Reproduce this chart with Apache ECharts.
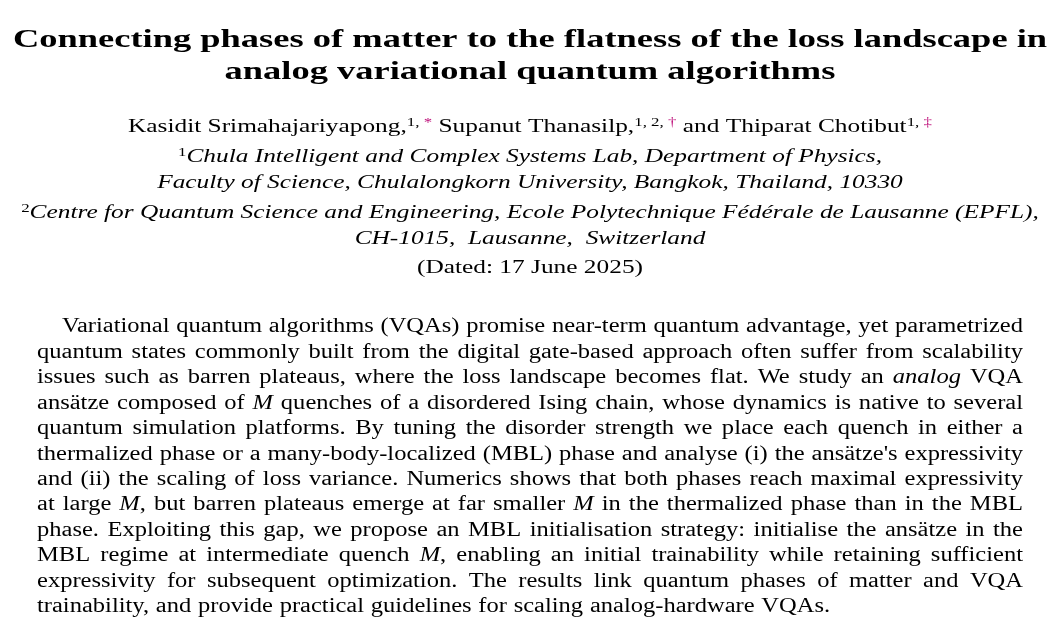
<!DOCTYPE html>
<html><head><meta charset="utf-8">
<script src="https://cdn.jsdelivr.net/npm/echarts@6/dist/echarts.min.js"></script>
<style>html,body{margin:0;padding:0;background:#fff}#c{width:1060px;height:640px}</style>
</head><body><div id="c"></div>
<script>
const titleLines = [
  "Connecting phases of matter to the flatness of the loss landscape in",
  "analog variational quantum algorithms"
];
const authorLine = "Kasidit Srimahajariyapong,{sup|1, }{pk|*} Supanut Thanasilp,{sup|1, 2, }{pk|†} and Thiparat Chotibut{sup|1, }{pk|‡}";
const affilLines = [
  "{sup|1}Chula Intelligent and Complex Systems Lab, Department of Physics,",
  "Faculty of Science, Chulalongkorn University, Bangkok, Thailand, 10330",
  "{sup|2}Centre for Quantum Science and Engineering, Ecole Polytechnique Fédérale de Lausanne (EPFL),",
  "CH-1015,  Lausanne,  Switzerland"
];
const dateLine = "(Dated: 17 June 2025)";
const abstractLines = [
  "Variational quantum algorithms (VQAs) promise near-term quantum advantage, yet parametrized",
  "quantum states commonly built from the digital gate-based approach often suffer from scalability",
  "issues such as barren plateaus, where the loss landscape becomes flat. We study an *analog* VQA",
  "ansätze composed of *M* quenches of a disordered Ising chain, whose dynamics is native to several",
  "quantum simulation platforms. By tuning the disorder strength we place each quench in either a",
  "thermalized phase or a many-body-localized (MBL) phase and analyse (i) the ansätze's expressivity",
  "and (ii) the scaling of loss variance. Numerics shows that both phases reach maximal expressivity",
  "at large *M*, but barren plateaus emerge at far smaller *M* in the thermalized phase than in the MBL",
  "phase. Exploiting this gap, we propose an MBL initialisation strategy: initialise the ansätze in the",
  "MBL regime at intermediate quench *M*, enabling an initial trainability while retaining sufficient",
  "expressivity for subsequent optimization. The results link quantum phases of matter and VQA",
  "trainability, and provide practical guidelines for scaling analog-hardware VQAs."
];
const FF = "'Liberation Serif', 'DejaVu Serif', serif";
const chart = echarts.init(document.getElementById('c'));
const els = [];
const TS=[1.43,1.43];
titleLines.forEach((t,i)=>els.push({type:'text',x:530,y:40+i*32,scaleX:TS[i],style:{text:t,align:'center',verticalAlign:'middle',fontFamily:FF,fontWeight:'bold',fontSize:25.5,fill:'#000'}}));
const rich = {
  sup:{fontSize:13,verticalAlign:'top',fontFamily:FF,fontStyle:'normal',fill:'#000',padding:[0,0,9,0]},
  pk:{fontSize:13,verticalAlign:'top',fontFamily:FF,fill:'#c0177e',padding:[0,0,9,0]}
};
const SX=1.3;
els.push({type:'text',x:530,y:127,scaleX:SX,style:{text:authorLine,rich,align:'center',verticalAlign:'middle',fontFamily:FF,fontSize:19.5,fill:'#000'}});
const ay=[157,183,213,239];
affilLines.forEach((t,i)=>els.push({type:'text',x:530,y:ay[i],scaleX:SX,style:{text:t,rich,align:'center',verticalAlign:'middle',fontFamily:FF,fontStyle:'italic',fontSize:19.5,fill:'#000'}}));
els.push({type:'text',x:530,y:268,scaleX:SX,style:{text:dateLine,align:'center',verticalAlign:'middle',fontFamily:FF,fontSize:19.5,fill:'#000'}});
// justified abstract
const FS=20, L=37, R=1023, Y0=327, DY=25.45;
const ctx=document.createElement('canvas').getContext('2d');
function fnt(it){return (it?'italic ':'')+FS+'px '+FF;}
function segs(w){const p=w.split('*');return p.map((s,k)=>({s,it:k%2===1})).filter(o=>o.s.length);}
function wWidth(w){return segs(w).reduce((a,o)=>{ctx.font=fnt(o.it);return a+ctx.measureText(o.s).width;},0);}
ctx.font=fnt(false);
const sp=ctx.measureText(' ').width*1.35;
let S=10;
abstractLines.slice(0,-1).forEach((line,i)=>{
  const words=line.split(' ');const left=i===0?62:L;
  const sum=words.map(wWidth).reduce((a,b)=>a+b,0);
  S=Math.min(S,(R-left-(words.length-1)*sp)/sum);
});
abstractLines.forEach((line,i)=>{
  const words=line.split(' ');
  const left = i===0?62:L;
  const widths=words.map(w=>wWidth(w)*S);
  const sum=widths.reduce((a,b)=>a+b,0);
  const last=i===abstractLines.length-1;
  const gap= last? sp : (R-left-sum)/(words.length-1);
  let x=left;
  words.forEach((w,j)=>{
    let xx=x;
    segs(w).forEach(o=>{
      els.push({type:'text',x:xx,y:Y0+i*DY,scaleX:S,style:{text:o.s,align:'left',verticalAlign:'middle',fontFamily:FF,fontSize:FS,fontStyle:o.it?'italic':'normal',fill:'#000'}});
      ctx.font=fnt(o.it);xx+=ctx.measureText(o.s).width*S;
    });
    x+=widths[j]+gap;
  });
});
chart.setOption({backgroundColor:'#fff',graphic:{elements:els}});
</script></body></html>
